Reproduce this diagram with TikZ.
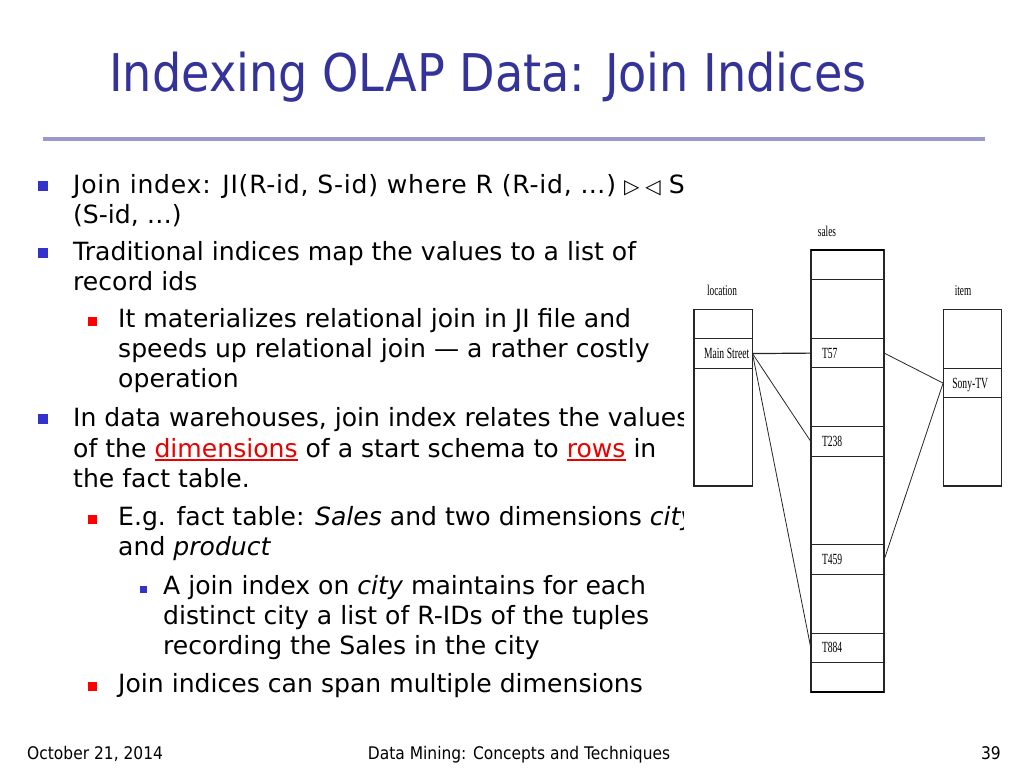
\documentclass[tikz,border=0pt]{standalone}
\usepackage{fontspec}
\setmainfont{DejaVu Sans}
\newfontfamily\titlefont{DejaVu Sans}[FakeStretch=0.888]
\newfontfamily\footfont{DejaVu Sans}[FakeStretch=0.89]
\newfontfamily\cellfont{Liberation Serif}[FakeStretch=0.62]
\definecolor{titleblue}{RGB}{51,51,153}
\definecolor{bulblue}{RGB}{51,51,204}
\definecolor{rulecol}{RGB}{153,153,204}
\definecolor{redtxt}{RGB}{235,0,0}
\newcommand\redul[1]{\textcolor{redtxt}{\setbox0\hbox{#1}\rlap{\rule[-3.5pt]{\wd0}{1.4pt}}\box0}}
\begin{document}
\begin{tikzpicture}[x=1pt,y=-1pt,
  body/.style={anchor=base west, inner sep=0pt, font=\fontsize{25.1}{30}\selectfont},
  bone/.style={fill=bulblue, minimum size=10pt, inner sep=0pt, anchor=south},
  btwo/.style={fill=red, minimum size=8.5pt, inner sep=0pt, anchor=south},
  bthree/.style={fill=bulblue, minimum size=7pt, inner sep=0pt, anchor=south},
  tbl/.style={draw=black!85, line width=1.1pt},
  cell/.style={minimum height=29.5pt, inner sep=0pt, text width=#1, align=left,
    text height=10pt, text depth=0pt, font=\cellfont\fontsize{15.5}{15.5}\selectfont},
  head/.style={inner sep=0pt, font=\cellfont\fontsize{15}{15}\selectfont},
  link/.style={draw=black!85, line width=0.8pt},
  foot/.style={anchor=base, inner sep=0pt, font=\footfont\fontsize{17.4}{17.4}\selectfont}
]
\useasboundingbox (0,0) rectangle (1024,768);
\fill[white] (0,0) rectangle (1024,768);

% title and rule
\node[anchor=base west, inner sep=0pt, text=titleblue, font=\titlefont\fontsize{52}{52}\selectfont] (title) at (109,91) {Indexing OLAP Data: Join Indices};
\draw[rulecol, line width=4.5pt] (43,139) -- (985,139);

% bullets
\node[bone] (b1) at (42.5,191) {};
\node[bone] (b2) at (42.5,258) {};
\node[btwo] (b3) at (92.5,326) {};
\node[bone] (b4) at (42.5,424) {};
\node[btwo] (b5) at (92.5,524) {};
\node[bthree] (b6) at (143,593) {};
\node[btwo] (b7) at (92.5,691) {};

% body text
\node[body] (t1) at (73,193) {{\addfontfeature{LetterSpace=3.0}Join index: JI(R-id, S-id) where R (R-id, …)}\ {\fontsize{20}{20}\selectfont ▷\kern6pt◁}\kern8pt S};
\node[body] (t2) at (73,223) {(S-id, …)};
\node[body] (t3) at (73,260) {Traditional indices map the values to a list of};
\node[body] (t4) at (73,290) {record ids};
\node[body] (t5) at (118,327) {It materializes relational join in JI file and};
\node[body] (t6) at (118,357) {speeds up relational join — a rather costly};
\node[body] (t7) at (118,387) {operation};
\node[body] (t8) at (73,426) {In data warehouses, join index relates the values};
\node[body] (t9) at (73,457) {of the \redul{dimensions} of a start schema to \redul{rows} in};
\node[body] (t10) at (73,487) {the fact table.};
\node[body] (t11) at (118,525) {E.g. fact table: \textit{Sales} and two dimensions \textit{city}};
\node[body] (t12) at (118,555) {and \textit{product}};
\node[body] (t13) at (163,594) {A join index on \textit{city} maintains for each};
\node[body] (t14) at (163,624) {distinct city a list of R-IDs of the tuples};
\node[body] (t15) at (163,654) {recording the Sales in the city};
\node[body] (t16) at (118,692) {Join indices can span multiple dimensions};

% picture background (covers overflowing text)
\fill[white] (684,200) rectangle (1012,702);

% headers
\node[head] (hloc) at (722,290) {location};
\node[head] (hsales) at (827,231) {sales};
\node[head] (hitem) at (963,291) {item};

% location table
\draw[tbl] (694,309.5) rectangle (752.3,486);
\draw[tbl] (694,338.9) -- (752.3,338.9) (694,368.4) -- (752.3,368.4);
% sales table
\draw[tbl] (811,250) rectangle (884,692);
\draw[black, line width=2pt] (811,250) -- (884,250) (811,692) -- (884,692);
\foreach \k in {1,3,4,6,7,10,11,13,14}
  \draw[tbl] (811,250+29.47*\k) -- (884,250+29.47*\k);
% item table
\draw[tbl] (943.3,309.5) rectangle (1001.7,486);
\draw[tbl] (943.3,368.4) -- (1001.7,368.4) (943.3,397.9) -- (1001.7,397.9);

% labelled cells
\node[cell=58.3pt] (ms) at (723.15,353.6) {\hspace*{10pt}Main\hspace{2.5pt}Street};
\node[cell=73pt] (s57) at (847.5,353.1) {\hspace*{11pt}T57};
\node[cell=73pt] (s238) at (847.5,441.5) {\hspace*{11pt}T238};
\node[cell=73pt] (s459) at (847.5,559.5) {\hspace*{11pt}T459};
\node[cell=73pt] (s884) at (847.5,647.9) {\hspace*{11pt}T884};
\node[cell=58.4pt] (sony) at (972.5,383.1) {\hspace*{9pt}Sony-TV};

% connectors
\draw[link, line width=1.2pt] (ms.east) -- (s57.west);
\draw[link] (ms.east) -- (s238.west);
\draw[link] (ms.east) -- (s884.west);
\draw[link] (s57.east) -- (sony.west);
\draw[link] (sony.west) -- (s459.east);

% footer
\node[foot, anchor=base west] (fdate) at (27,759) {October 21, 2014};
\node[foot] (ftitle) at (519,759) {Data Mining: Concepts and Techniques};
\node[foot, anchor=base east] (fpage) at (1001,759) {39};
\end{tikzpicture}
\end{document}
